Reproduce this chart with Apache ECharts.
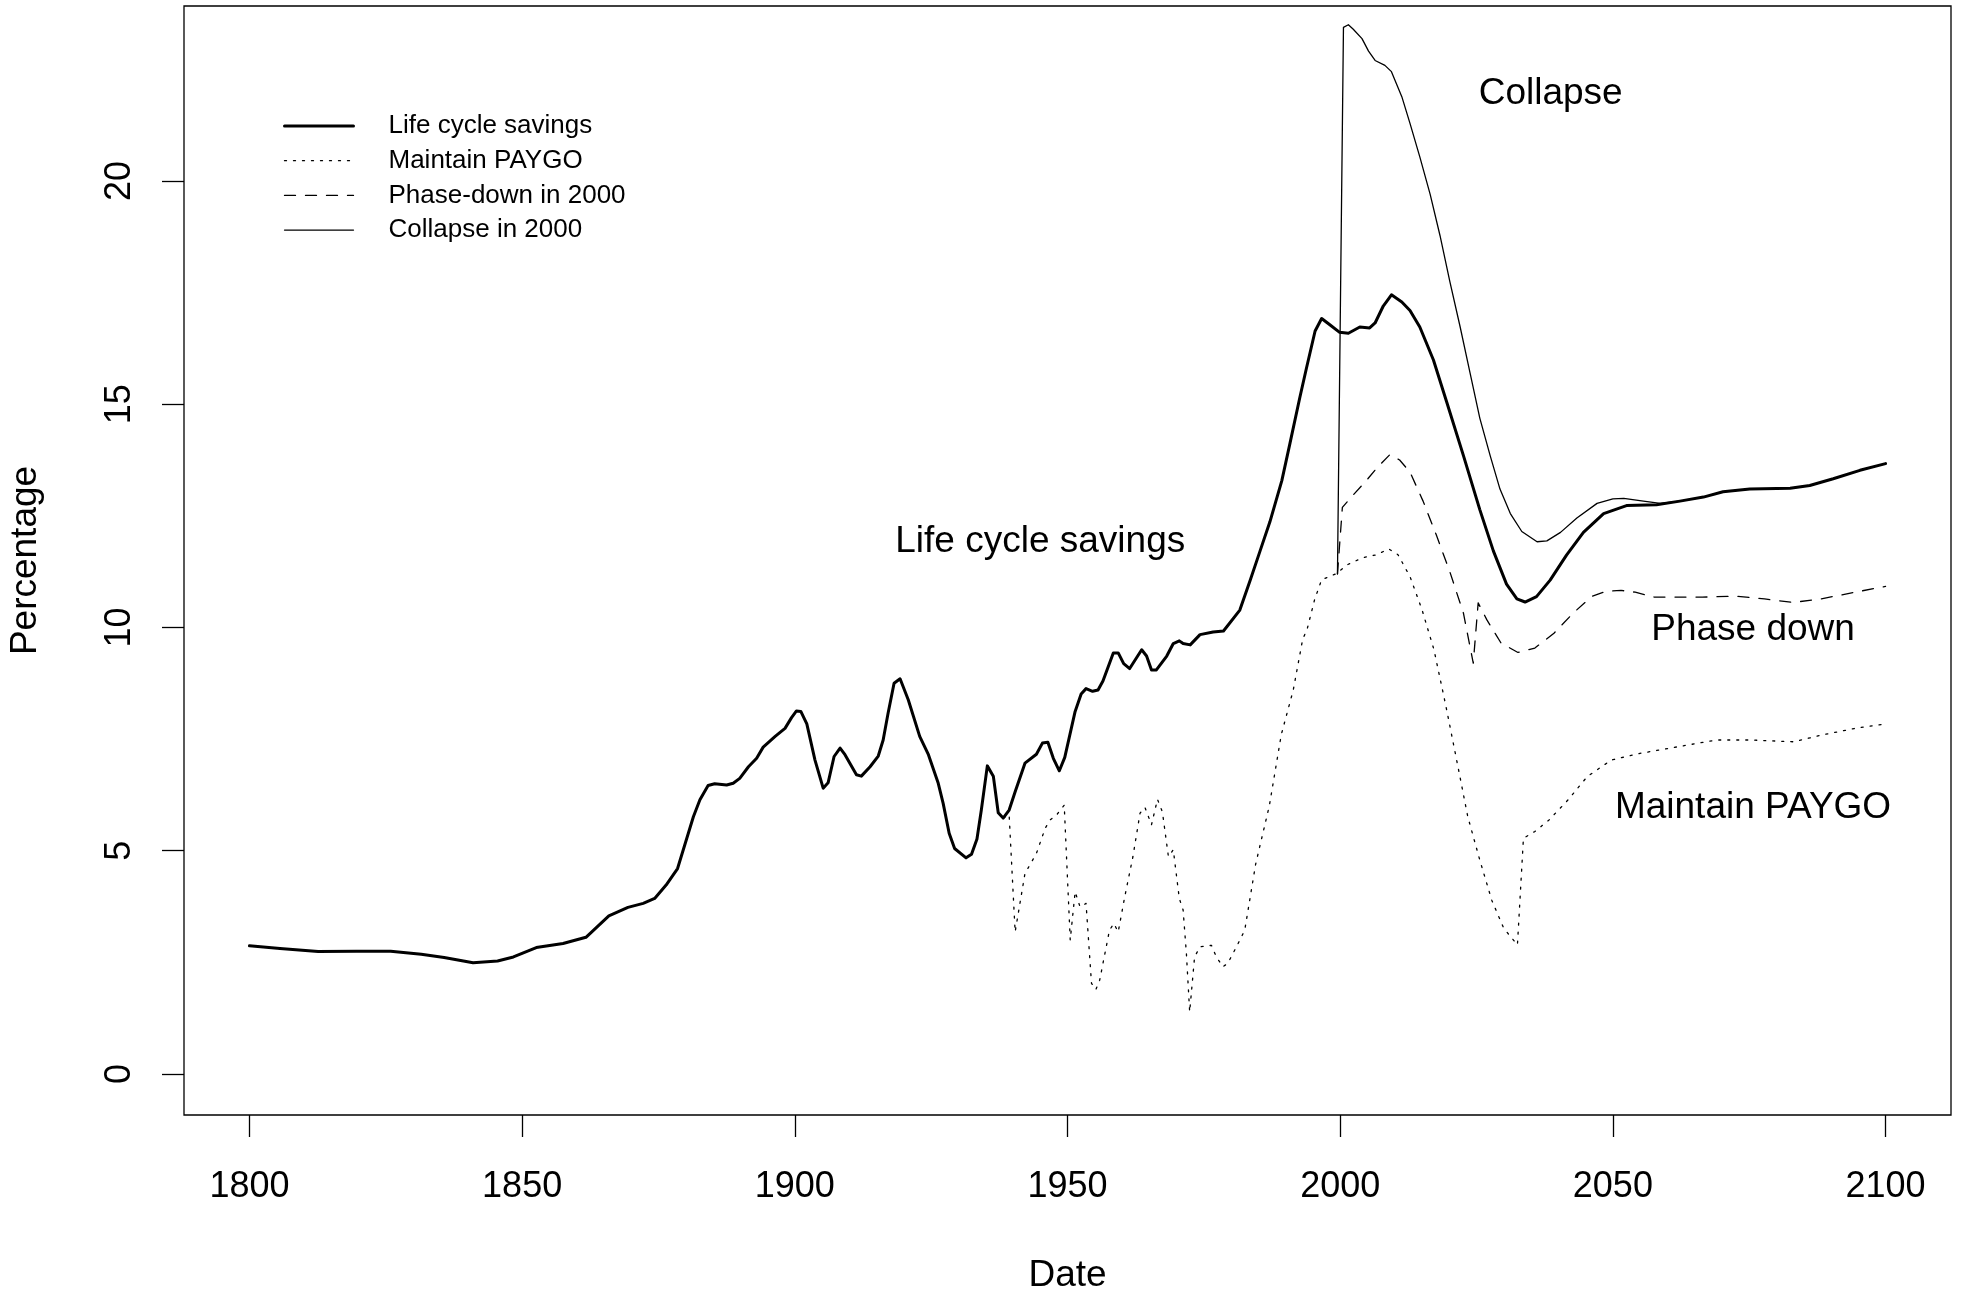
<!DOCTYPE html>
<html>
<head>
<meta charset="utf-8">
<title>Savings rate scenarios</title>
<script src="https://cdn.jsdelivr.net/npm/echarts@6/dist/echarts.min.js"></script>
<style>
  html, body { margin: 0; padding: 0; background: #fff; }
  #chart { width: 1965px; height: 1293px; }
</style>
</head>
<body>
<div id="chart"></div>
<script>
// values: [year, percentage]
const lifeCycle = [
  [1800, 2.87], [1805.6, 2.81], [1812.6, 2.74], [1819.6, 2.75], [1825.9, 2.75], [1831.5, 2.68],
  [1835.7, 2.61], [1841, 2.49], [1845.5, 2.53], [1848.4, 2.62], [1852.6, 2.83], [1857.5, 2.92],
  [1861.7, 3.06], [1865.9, 3.54], [1869.4, 3.73], [1872.2, 3.82], [1874.3, 3.93], [1876.4, 4.23],
  [1878.5, 4.6], [1881.4, 5.76], [1882.6, 6.14], [1884.1, 6.46], [1885.3, 6.5], [1887.5, 6.47],
  [1888.7, 6.51], [1889.9, 6.62], [1891.5, 6.88], [1893, 7.07], [1894.2, 7.32], [1896.4, 7.56],
  [1898.2, 7.74], [1899.4, 7.98], [1900.3, 8.13], [1901.1, 8.12], [1902.2, 7.84], [1903.7, 7.03],
  [1905.2, 6.4], [1906.1, 6.52], [1907.2, 7.11], [1908.3, 7.3], [1909.2, 7.15], [1911.3, 6.7],
  [1912.2, 6.67], [1913.8, 6.88], [1915.3, 7.12], [1916.2, 7.48], [1917.1, 8.08], [1918.2, 8.75],
  [1919.3, 8.85], [1920.8, 8.38], [1922.9, 7.56], [1924.5, 7.15], [1926.3, 6.51], [1927.2, 6.06],
  [1928.3, 5.39], [1929.3, 5.05], [1931.4, 4.84], [1932.4, 4.92], [1933.4, 5.26], [1934.2, 5.91],
  [1935.3, 6.9], [1936.4, 6.67], [1937.3, 5.85], [1938.2, 5.73], [1939.3, 5.91], [1940.4, 6.32],
  [1942.2, 6.96], [1944.3, 7.16], [1945.4, 7.41], [1946.4, 7.43], [1947.4, 7.07], [1948.5, 6.79],
  [1949.5, 7.09], [1951.4, 8.12], [1952.5, 8.51], [1953.4, 8.63], [1954.6, 8.57], [1955.6, 8.6],
  [1956.5, 8.8], [1958.4, 9.43], [1959.3, 9.43], [1960.3, 9.19], [1961.4, 9.08], [1963.6, 9.5],
  [1964.5, 9.36], [1965.4, 9.05], [1966.3, 9.05], [1968.2, 9.36], [1969.4, 9.64], [1970.5, 9.7],
  [1971.2, 9.64], [1972.5, 9.61], [1974.3, 9.84], [1976.7, 9.9], [1978.6, 9.92], [1981.6, 10.39],
  [1983.5, 11.06], [1985.3, 11.71], [1987.1, 12.36], [1989.3, 13.29], [1990.8, 14.13], [1992.6, 15.15],
  [1993.8, 15.8], [1995.4, 16.64], [1996.6, 16.92], [1998.1, 16.78], [1999.9, 16.61], [2001.5, 16.59],
  [2003.6, 16.73], [2005.4, 16.71], [2006.4, 16.82], [2007.9, 17.2], [2009.4, 17.45], [2011.3, 17.29],
  [2012.8, 17.1], [2014.6, 16.73], [2017.1, 15.99], [2019.5, 15.06], [2022.6, 13.85], [2025.6, 12.64],
  [2028.1, 11.71], [2030.5, 10.97], [2032.4, 10.64], [2033.9, 10.57], [2036, 10.69], [2038.5, 11.06],
  [2041.5, 11.62], [2044.6, 12.13], [2048.3, 12.55], [2052.5, 12.73], [2058, 12.75], [2062.3, 12.83],
  [2066.6, 12.92], [2070.2, 13.04], [2075.1, 13.1], [2082.5, 13.12], [2086.1, 13.18], [2090.4, 13.33],
  [2095.3, 13.52], [2100, 13.67]
];

const maintainPaygo = [
  [1938.2, 5.73], [1939.3, 5.8], [1940.4, 3.18], [1942.2, 4.49], [1943.1, 4.68], [1944.3, 4.94],
  [1945.9, 5.5], [1946.8, 5.69], [1948, 5.8], [1949.4, 6.02], [1950.5, 3.0], [1951.4, 4.08],
  [1952.3, 3.74], [1953.4, 3.82], [1954.4, 2.03], [1955.2, 1.89], [1955.9, 2.1], [1957.7, 3.22],
  [1958.5, 3.37], [1959.3, 3.18], [1960.5, 3.97], [1962, 4.87], [1963.3, 5.84], [1964.2, 5.97],
  [1965.4, 5.58], [1966.5, 6.15], [1967.4, 5.87], [1968.5, 4.87], [1969.4, 5.02], [1970.5, 3.93],
  [1971.2, 3.67], [1971.8, 2.7], [1972.4, 1.39], [1973.3, 2.62], [1974.3, 2.85], [1976.4, 2.88],
  [1977.3, 2.62], [1978.5, 2.4], [1979.4, 2.48], [1981, 2.85], [1982.5, 3.22], [1984.5, 4.7],
  [1987, 6.0], [1989.2, 7.6], [1991.4, 8.6], [1993.1, 9.72], [1994, 9.99], [1995.3, 10.62],
  [1996.6, 11.07], [1999.2, 11.2], [2001.4, 11.41], [2004.1, 11.56], [2006.7, 11.63], [2008.9, 11.76],
  [2010.6, 11.63], [2012.8, 11.14], [2015, 10.4], [2017.2, 9.5], [2019.4, 8.23], [2021.6, 6.88],
  [2023.4, 5.76], [2025.6, 4.79], [2027.8, 3.89], [2030, 3.26], [2032.5, 2.89], [2033.6, 5.28],
  [2035.7, 5.43], [2038.3, 5.69], [2041.8, 6.14], [2045.3, 6.66], [2049.7, 7.03], [2055, 7.18],
  [2062, 7.33], [2069, 7.48], [2075.2, 7.48], [2083.1, 7.44], [2088.3, 7.59], [2094.4, 7.74],
  [2100, 7.84]
];

const phaseDown = [
  [1999.5, 11.2], [2000.4, 12.69], [2002.4, 12.97], [2004.8, 13.29], [2006.7, 13.57], [2009.1, 13.87],
  [2010.9, 13.75], [2012.8, 13.48], [2015.2, 12.83], [2017.6, 12.08], [2020.1, 11.25], [2022.6, 10.32],
  [2024.4, 9.2], [2025.3, 10.55], [2026.9, 10.17], [2029.5, 9.65], [2032.6, 9.44], [2035.7, 9.54],
  [2039.2, 9.87], [2042.7, 10.32], [2046.2, 10.7], [2048.8, 10.81], [2051.5, 10.83], [2054.1, 10.79],
  [2057.6, 10.68], [2066.4, 10.68], [2072.5, 10.7], [2077.8, 10.64], [2083, 10.56], [2088.2, 10.64],
  [2094.4, 10.79], [2100, 10.92]
];

const collapse = [
  [1999.5, 11.2], [2000.6, 23.44], [2001.5, 23.5], [2002.4, 23.4], [2004, 23.19], [2005.2, 22.91],
  [2006.4, 22.7], [2008.2, 22.59], [2009.4, 22.45], [2011.3, 21.89], [2012.8, 21.29], [2014.6, 20.54],
  [2016.5, 19.7], [2018.3, 18.78], [2020.1, 17.75], [2022, 16.73], [2023.8, 15.71], [2025.6, 14.69],
  [2027.5, 13.85], [2029.3, 13.1], [2031.2, 12.55], [2033.3, 12.15], [2036.1, 11.92], [2037.9, 11.94],
  [2040.4, 12.13], [2043.4, 12.45], [2047.1, 12.78], [2050, 12.88], [2052, 12.89], [2055.6, 12.83],
  [2058.7, 12.78], [2062.3, 12.83], [2066.6, 12.92], [2070.2, 13.04], [2075.1, 13.1], [2082.5, 13.12],
  [2086.1, 13.18], [2090.4, 13.33], [2095.3, 13.52], [2100, 13.67]
];

const seriesNames = ["Life cycle savings", "Maintain PAYGO", "Phase-down in 2000", "Collapse in 2000"];
const lineWidths = [3, 1.3, 1.3, 1.3];
const lineTypes = ["solid", [2, 7], [11, 10], "solid"];
const xTicks = [1800, 1850, 1900, 1950, 2000, 2050, 2100];
const yTicks = [0, 5, 10, 15, 20];

// in-plot text labels, placed in data coordinates
const noteText = ["Life cycle savings", "Collapse", "Phase down", "Maintain PAYGO"];
const noteX = [1945, 2038.6, 2075.7, 2075.7];
const noteY = [11.92, 21.95, 9.95, 5.95];

const FONT = '"Liberation Sans", Arial, Helvetica, sans-serif';

function lineSeries(i, data, z) {
  return {
    name: seriesNames[i],
    type: "line",
    data,
    symbol: "none",
    showSymbol: false,
    smooth: false,
    z,
    itemStyle: { color: "#000", opacity: 0 },
    lineStyle: { color: "#000", width: lineWidths[i], type: lineTypes[i], cap: "round", join: "round" },
    emphasis: { disabled: true },
  };
}

const chart = echarts.init(document.getElementById("chart"), null, { renderer: "canvas" });

chart.setOption({
  animation: false,
  backgroundColor: "#fff",
  textStyle: { fontFamily: FONT, color: "#000" },
  grid: {
    left: 184, right: 14, top: 6, bottom: 178,
    outerBoundsMode: "none",
    containLabel: false,
    show: true, borderColor: "#000", borderWidth: 1.3, backgroundColor: "transparent",
  },
  legend: {
    orient: "vertical",
    left: 283,
    top: 113,
    padding: 0,
    itemWidth: 69,
    itemHeight: 26,
    itemGap: 8.7,
    selectedMode: false,
    data: seriesNames.map((name, i) => ({
      name,
      lineStyle: { width: lineWidths[i], type: lineTypes[i], color: "#000" },
    })),
    itemStyle: { opacity: 0 },
    textStyle: { fontFamily: FONT, fontSize: 26, color: "#000", lineHeight: 26, padding: [0, 0, 0, 30] },
  },
  xAxis: {
    type: "value",
    min: 1788,
    max: 2112,
    name: "Date",
    nameLocation: "middle",
    nameGap: 142,
    nameTextStyle: { fontFamily: FONT, fontSize: 37, color: "#000" },
    axisLine: { show: false, onZero: false },
    splitLine: { show: false },
    axisTick: {
      show: true, inside: false, length: 22, customValues: xTicks,
      lineStyle: { color: "#000", width: 1.3 },
    },
    axisLabel: {
      customValues: xTicks, margin: 54, fontSize: 36, fontFamily: FONT, color: "#000",
      formatter: (v) => String(v),
    },
  },
  yAxis: {
    type: "value",
    min: -0.92,
    max: 23.92,
    name: "Percentage",
    nameLocation: "middle",
    nameGap: 140,
    nameRotate: 90,
    nameTextStyle: { fontFamily: FONT, fontSize: 37, color: "#000" },
    axisLine: { show: false, onZero: false },
    splitLine: { show: false },
    axisTick: {
      show: true, inside: false, length: 22, customValues: yTicks,
      lineStyle: { color: "#000", width: 1.3 },
    },
    axisLabel: {
      customValues: yTicks, rotate: 90, margin: 46, fontSize: 36, fontFamily: FONT, color: "#000",
      formatter: (v) => String(v),
    },
  },
  series: [
    lineSeries(0, lifeCycle, 5),
    lineSeries(1, maintainPaygo, 3),
    lineSeries(2, phaseDown, 3),
    lineSeries(3, collapse, 4),
    {
      name: "notes",
      type: "scatter",
      symbolSize: 0,
      silent: true,
      z: 6,
      itemStyle: { opacity: 1, color: "#000" },
      data: noteText.map((t, i) => ({ name: t, value: [noteX[i], noteY[i]] })),
      label: {
        show: true,
        position: "inside",
        formatter: (p) => p.name,
        fontFamily: FONT,
        fontSize: 37,
        color: "#000",
        opacity: 1,
      },
    },
  ],
});
</script>
</body>
</html>
